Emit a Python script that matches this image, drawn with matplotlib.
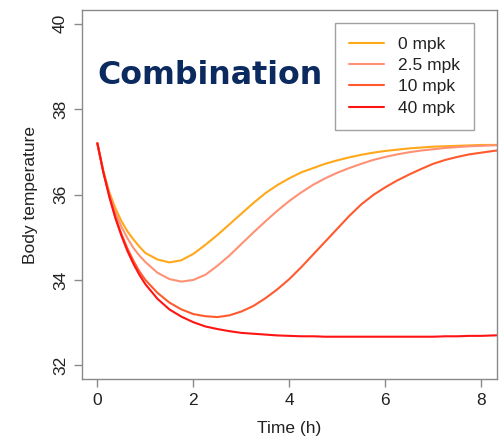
import matplotlib
matplotlib.use("Agg")
import matplotlib.pyplot as plt

plt.rcParams['font.family'] = ['Liberation Sans', 'DejaVu Sans']

time_h = [0, 0.125, 0.25, 0.375, 0.5, 0.625, 0.75, 0.875, 1.0, 1.25, 1.5, 1.75,
          2.0, 2.25, 2.5, 2.75, 3.0, 3.25, 3.5, 3.75, 4.0, 4.25, 4.5, 4.75, 5.0,
          5.25, 5.5, 5.75, 6.0, 6.25, 6.5, 6.75, 7.0, 7.25, 7.5, 7.75, 8.0, 8.25,
          8.5]

temp_0mpk = [37.20, 36.55, 36.05, 35.68, 35.38, 35.14, 34.95, 34.78, 34.63, 34.48,
             34.41, 34.46, 34.61, 34.82, 35.05, 35.30, 35.55, 35.80, 36.03, 36.22,
             36.38, 36.52, 36.62, 36.72, 36.80, 36.87, 36.93, 36.98, 37.02, 37.05,
             37.08, 37.10, 37.12, 37.13, 37.14, 37.15, 37.16, 37.16, 37.17]

temp_2_5mpk = [37.20, 36.53, 36.00, 35.58, 35.25, 34.98, 34.75, 34.57, 34.42, 34.17,
               34.02, 33.96, 34.00, 34.12, 34.33, 34.57, 34.84, 35.11, 35.37, 35.62,
               35.85, 36.05, 36.23, 36.38, 36.51, 36.62, 36.72, 36.81, 36.88, 36.94,
               36.99, 37.03, 37.06, 37.09, 37.11, 37.13, 37.14, 37.15, 37.16]

temp_10mpk = [37.20, 36.52, 35.97, 35.47, 35.08, 34.74, 34.45, 34.20, 34.00, 33.70,
              33.47, 33.31, 33.20, 33.15, 33.13, 33.17, 33.26, 33.39, 33.57, 33.78,
              34.02, 34.30, 34.60, 34.90, 35.20, 35.50, 35.77, 35.99, 36.17, 36.33,
              36.47, 36.60, 36.72, 36.81, 36.88, 36.94, 36.98, 37.02, 37.05]

temp_40mpk = [37.20, 36.52, 35.94, 35.45, 35.04, 34.68, 34.38, 34.12, 33.90, 33.56,
              33.31, 33.14, 33.01, 32.91, 32.85, 32.80, 32.76, 32.74, 32.72, 32.70,
              32.69, 32.68, 32.68, 32.67, 32.67, 32.67, 32.67, 32.67, 32.67, 32.67,
              32.67, 32.67, 32.67, 32.68, 32.68, 32.69, 32.69, 32.70, 32.71]

series_labels = ["0 mpk", "2.5 mpk", "10 mpk", "40 mpk"]
series_colors = ["#FFA81A", "#FF9175", "#FF5A2E", "#FF1414"]
x_ticks = [0, 2, 4, 6, 8]
y_ticks = [32, 34, 36, 38, 40]

W, H = 502, 438
fig = plt.figure(figsize=(W / 100, H / 100), dpi=100)
L, R, T, B = 82, 496.7, 10, 379
ax = fig.add_axes([L / W, 1 - B / H, (R - L) / W, (B - T) / H])

for vals, lab, col in zip([temp_0mpk, temp_2_5mpk, temp_10mpk, temp_40mpk],
                          series_labels, series_colors):
    ax.plot(time_h, vals, color=col, lw=1.5, label=lab, solid_capstyle='round',
            solid_joinstyle='round')

ax.set_xlim(-0.32, 8.32)
ax.set_ylim(31.68, 40.32)
ax.set_xticks(x_ticks)
ax.set_yticks(y_ticks)
ax.set_xticklabels([str(v) for v in x_ticks])
ax.set_yticklabels([str(v) for v in y_ticks], rotation=90, va='center')

gray = "#8a8a8a"
for s in ax.spines.values():
    s.set_color(gray)
    s.set_linewidth(1.0)
ax.tick_params(axis='both', colors=gray, length=6, width=1.0, labelsize=12.5,
               labelcolor="#222222")
ax.tick_params(axis='x', pad=4)
ax.tick_params(axis='y', pad=4)

fig.text(289 / W, 1 - 428 / H, "Time (h)", ha='center', va='center', fontsize=12.5,
         color="#222222")
fig.text(31 / W, 1 - 194.5 / H, "Body temperature", ha='center', va='center',
         rotation=90, fontsize=12.5, color="#222222")

ax.text(97 / W, 1 - 75 / H, "Combination", transform=fig.transFigure,
        ha='left', va='center', fontsize=22.8, fontweight='bold',
        family='DejaVu Sans', color="#0b2a60")

leg = ax.legend(loc='upper left', bbox_to_anchor=(335 / W, 1 - 23 / H),
                bbox_transform=fig.transFigure, borderaxespad=0,
                fontsize=12.5, frameon=True, fancybox=False, edgecolor=gray,
                handlelength=2.0, handletextpad=0.85, labelspacing=0.35,
                borderpad=0.8)
leg.get_frame().set_linewidth(1.0)
for t in leg.get_texts():
    t.set_color("#222222")

fig.savefig("out.png", dpi=100)
